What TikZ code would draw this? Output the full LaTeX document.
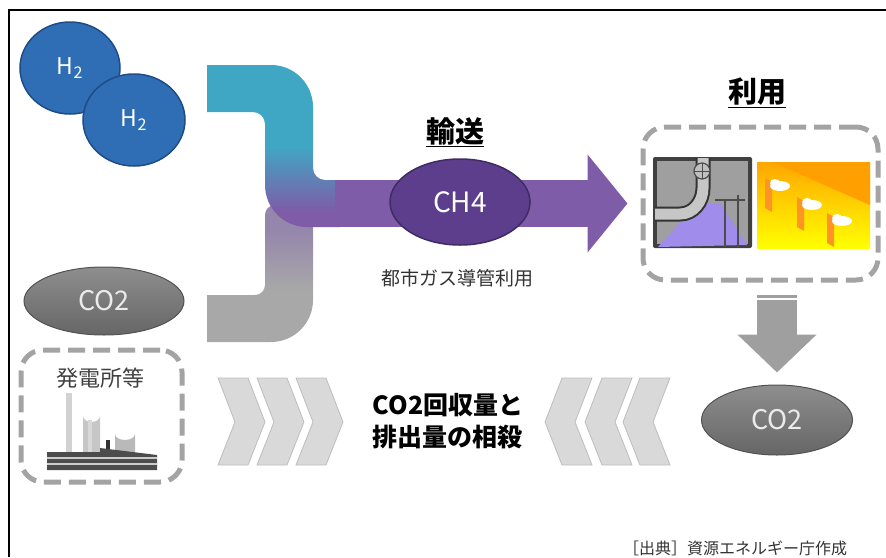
\documentclass[tikz,border=0pt]{standalone}
\usepackage{fontspec}
\setmainfont{Noto Sans CJK JP}
\usetikzlibrary{shapes.geometric,arrows.meta}

\definecolor{pipeteal}{HTML}{3FA7C4}
\definecolor{pipepurple}{HTML}{7E5CA8}
\definecolor{lavgray}{HTML}{9586AC}
\definecolor{pipegray}{HTML}{A8A8A8}
\definecolor{h2blue}{HTML}{2F6DB5}
\definecolor{h2edge}{HTML}{1F4C86}
\definecolor{ch4fill}{HTML}{5C3E8C}
\definecolor{co2top}{HTML}{8E8E8E}
\definecolor{co2bot}{HTML}{666666}
\definecolor{dashgray}{HTML}{A3A3A3}
\definecolor{chevfill}{HTML}{D9D9D9}
\definecolor{chevedge}{HTML}{BDBDBD}

% pipe colours run from the top colour into the band colour
\pgfdeclareverticalshading{tealpipe}{100bp}{color(0bp)=(pipepurple); color(30bp)=(pipepurple); color(50bp)=(pipeteal); color(100bp)=(pipeteal)}
\pgfdeclareverticalshading{graypipe}{100bp}{color(0bp)=(pipegray); color(44bp)=(pipegray); color(66bp)=(lavgray); color(100bp)=(lavgray)}

\tikzset{
  molecule/.style={ellipse, text=white, inner sep=0pt, font=\fontsize{27}{29}\selectfont},
  h2ball/.style={molecule, fill=h2blue, draw=h2edge, line width=1.5pt, minimum width=100pt, minimum height=92pt, font=\fontsize{23}{25}\selectfont},
  co2ball/.style={molecule, top color=co2top, bottom color=co2bot, draw=co2bot!80!black, line width=1pt, minimum width=155pt, minimum height=70pt, text=white!92!black},
  dashbox/.style={draw=dashgray, line width=5pt, dash pattern=on 17pt off 8pt, rounded corners=22pt},
  chevron/.style={fill=chevfill, draw=chevedge, line width=0.8pt},
  heading/.style={font=\fontsize{29}{31}\selectfont\bfseries}
}

\begin{document}
\begin{tikzpicture}[x=1pt,y=-1pt]
  \useasboundingbox (0,0) rectangle (886,557);
  \draw[line width=2pt] (9,557) -- (9,10) -- (886,10);

  % hydrogen and the source side
  \node[h2ball] (h2a) at (70,68) {H\textsubscript{2}};
  \node[h2ball, minimum width=102pt] (h2b) at (134,120) {H\textsubscript{2}};
  \node[co2ball, minimum width=160pt, minimum height=68pt] (co2l) at (104,301) {CO2};
  \node[dashbox, minimum width=161pt, minimum height=132pt] (plant) at (101.5,416) {};
  \node[font=\fontsize{22}{24}\selectfont, text=black!75] (plantlbl) at (100,378) {発電所等};

  % plant icon
  \fill[gray!35] (66,393) rectangle (72,462);
  \fill[gray!45] (83,462) -- (83,416) arc[start angle=180, end angle=0, x radius=8.5, y radius=6] -- (100,462) -- cycle;
  \fill[gray!55] (115,462) -- (115,434) arc[start angle=180, end angle=0, x radius=10, y radius=6] -- (135,462) -- cycle;
  \fill[gray!30] (88,420) rectangle (92,462);
  \fill[black!80] (106,440) rectangle (110,462);
  \fill[black!70] (47,452) -- (100,452) -- (100,448) -- (157,455) -- (157,470) -- (47,470) -- cycle;
  \draw[gray!40, line width=1.2pt] (47,458) -- (157,458) (47,464) -- (157,464);

  % pipes merging into the gas band
  \shade[shading=graypipe] (207,295) [rounded corners=10pt] -- (265,295) -- (265,205) [sharp corners] -- (313,205) [rounded corners=42pt] -- (313,342) [sharp corners] -- (207,342) -- cycle;
  \shade[shading=tealpipe] (207,65) [rounded corners=42pt] -- (313,65) [rounded corners=12pt] -- (313,180) [sharp corners] -- (340,180) -- (340,227) [rounded corners=42pt] -- (265,227) [rounded corners=12pt] -- (265,112) [sharp corners] -- (207,112) -- cycle;

  % use side
  \node[heading] (usettl) at (757,93) {\underline{利用}};
  \node[dashbox, minimum width=235pt, minimum height=153pt] (usebox) at (760.5,203.5) {};

  % engine
  \fill[black!75, rounded corners=2pt] (653,157) rectangle (752,248);
  \fill[gray!75] (657,161) rectangle (748,244);
  \fill[violet!35!blue!45!white] (658,247) -- (698,203) -- (720,203) -- (747,245) -- cycle;
  \draw[black!80, line width=15pt] (655,214) -- (680,214) to[out=0,in=-90] (703,188) -- (703,158);
  \draw[gray!45, line width=11pt] (655,214) -- (680,214) to[out=0,in=-90] (703,188) -- (703,158);
  \draw[black!70, fill=gray!50, line width=1.2pt] (702,171) circle (8);
  \draw[black!70, line width=1pt] (694,171) -- (710,171) (702,163) -- (702,179);
  \draw[black!70, line width=2pt] (725,200) -- (725,247) (738,195) -- (738,247) (715,200) -- (745,200);

  % heater panel
  \shade[top color=orange!70!yellow, bottom color=yellow] (757,162) rectangle (870,248);
  \fill[orange!75!yellow] (772,162) -- (870,162) -- (870,205) -- cycle;
  \foreach \x/\y in {765/178, 797/197, 827/213} {
    \fill[orange!85] (\x,\y) -- ++(7,4) -- ++(0,30) -- ++(-7,-4) -- cycle;
    \fill[white] (\x+15,\y+8) ellipse (10 and 5);
    \fill[white] (\x+10,\y+5) ellipse (5 and 4);
  }

  % down arrow and emitted CO2
  \node[co2ball, minimum width=151pt, minimum height=70pt] (co2r) at (777,420) {CO2};
  \draw[gray!75, line width=40pt, -{Triangle[length=38pt,width=77pt]}] ([yshift=-10pt]co2r.north |- usebox.south) -- ([yshift=12pt]co2r.north);
  \draw[white, line width=1.5pt] (757,294) -- (798,294) (757,299) -- (798,299);

  % transport band
  \draw[pipepurple, line width=47pt, -{Triangle[length=40pt,width=96pt]}] (335,203.5) -- ([xshift=-13pt]usebox.west);
  \node[heading] (transttl) at (455,132) {\underline{輸送}};
  \node[molecule, fill=ch4fill, draw=ch4fill!70!black, line width=1.5pt, minimum width=140pt, minimum height=86pt, font=\fontsize{28}{30}\selectfont] (ch4) at (460,202) {CH4};
  \node[font=\fontsize{19}{21}\selectfont, text=black!80] (pipelbl) at (457,278) {都市ガス導管利用};

  % offset of captured and emitted CO2
  \foreach \x in {218,257,296}
    \draw[chevron] (\x,378) -- ++(30,0) -- ++(17,44) -- ++(-17,43) -- ++(-30,0) -- ++(17,-43) -- cycle;
  \foreach \x in {592,632,670}
    \draw[chevron] (\x,378) -- ++(-30,0) -- ++(-17,44) -- ++(17,43) -- ++(30,0) -- ++(-17,-43) -- cycle;
  \node[font=\fontsize{25}{32}\selectfont\bfseries, align=left] (offset) at (448,421) {CO2回収量と\\排出量の相殺};

  \node[font=\fontsize{16}{18}\selectfont, text=black!80] (source) at (735,548) {［出典］資源エネルギー庁作成};
\end{tikzpicture}
\end{document}
